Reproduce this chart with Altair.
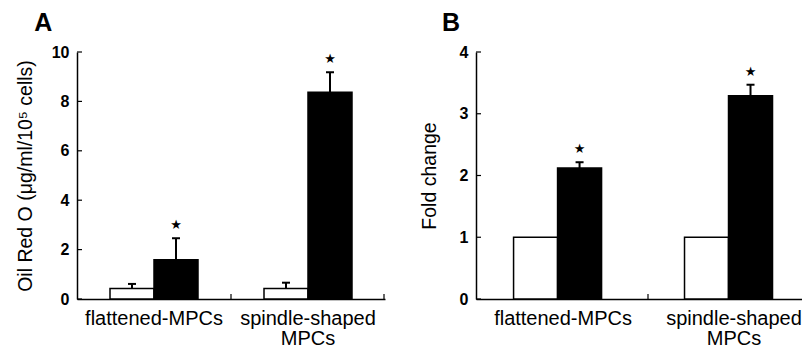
import altair as alt
import pandas as pd

categories = ["flattened-MPCs", "spindle-shaped MPCs"]
groups = ["control", "treated"]

# Panel A: Oil Red O
a_values = [0.43, 1.59, 0.43, 8.37]
a_err_top = [0.61, 2.46, 0.66, 9.18]
a_star = [0, 1, 0, 1]
a_ticks = [0, 2, 4, 6, 8, 10]

# Panel B: Fold change
b_values = [1.0, 2.12, 1.0, 3.29]
b_err_top = [1.0, 2.215, 1.0, 3.47]
b_star = [0, 1, 0, 1]
b_ticks = [0, 1, 2, 3, 4]

FONT = "Liberation Sans"


def make_df(values, errs, stars):
    rows = []
    i = 0
    for c in categories:
        for g in groups:
            rows.append({"cat": c, "grp": g, "value": values[i],
                         "err": errs[i], "star": stars[i]})
            i += 1
    return pd.DataFrame(rows)


def panel(values, errs, stars, ticks, ymax, ytitle, title, w, h,
          title_pad, p_in, p_out, p_align, title_dx, xtick_pos):
    df = make_df(values, errs, stars)
    xs = alt.Scale(paddingInner=p_in, paddingOuter=p_out, align=p_align)
    x_enc = alt.X("cat:N", scale=xs, title=None,
                  axis=alt.Axis(labelAngle=0, ticks=False, domain=True,
                                domainColor="black", domainOpacity=1,
                                domainWidth=1.5, labelFont=FONT, labelFontSize=20,
                                labelColor="black", labelPadding=9,
                                labelLineHeight=20,
                                labelExpr="datum.label == 'spindle-shaped MPCs' ? ['spindle-shaped', 'MPCs'] : datum.label"))
    y_enc = alt.Y("value:Q", scale=alt.Scale(domain=[0, ymax], nice=False), title=ytitle,
                  axis=alt.Axis(values=ticks, format="d", ticks=False, grid=False,
                                domain=True, domainColor="black", domainOpacity=1,
                                domainWidth=1.5,
                                labelFont=FONT, labelFontSize=16,
                                labelFontWeight="bold", labelColor="black",
                                labelPadding=8, titleFont=FONT,
                                titleFontSize=19.5, titleFontWeight="normal",
                                titleColor="black", titlePadding=title_pad))
    bars = alt.Chart(df).mark_bar(stroke="black", strokeWidth=1.5).encode(
        x=x_enc, xOffset=alt.XOffset("grp:N"), y=y_enc,
        fill=alt.Fill("grp:N", scale=alt.Scale(domain=groups, range=["white", "black"]),
                      legend=None),
    )
    err = alt.Chart(df).mark_rule(color="black", strokeWidth=2).encode(
        x="cat:N", xOffset="grp:N", y="value:Q", y2="err:Q"
    )
    caps = alt.Chart(df).mark_tick(color="black", thickness=2, size=8).encode(
        x="cat:N", xOffset="grp:N", y="err:Q",
        opacity=alt.condition("datum.err > datum.value", alt.value(1), alt.value(0)),
    )
    stars_l = alt.Chart(df).mark_text(text="★", font="DejaVu Sans", fontSize=13,
                                      color="black", baseline="middle",
                                      dy=-13).encode(
        x="cat:N", xOffset="grp:N", y="err:Q",
        opacity=alt.Opacity("star:Q", scale=None),
    )
    ytk = alt.Chart(pd.DataFrame({"t": ticks})).mark_rule(
        color="black", strokeWidth=1.2).encode(
        y="t:Q", x=alt.value(0), x2=alt.value(5)
    )
    layers = [bars, err, caps, stars_l, ytk]
    for xp in xtick_pos:
        layers.append(alt.Chart(pd.DataFrame({"t": [0]})).mark_rule(
            color="black", strokeWidth=1.2).encode(
            x=alt.value(xp), y=alt.value(h), y2=alt.value(h - 5)))
    return alt.layer(*layers).properties(
        width=w, height=h,
        title=alt.Title(title, anchor="start", font=FONT, fontSize=25,
                        fontWeight="bold", color="black", dx=title_dx, offset=8),
    )


A = panel(a_values, a_err_top, a_star, a_ticks, 10,
          "Oil Red O (μg/ml/10⁵ cells)", "A", 308, 247, 16,
          0.4286, 0.2143, 0.5, 19, [154, 307])
B = panel(b_values, b_err_top, b_star, b_ticks, 4,
          "Fold change", "B", 326, 247, 20,
          0.421, 0.164, 0.67, 23, [172])

chart = alt.hconcat(A, B, spacing=34).properties(
    padding={"left": 7, "top": 3, "right": 0, "bottom": 0}
).configure_view(stroke=None)

chart.save("out.html", embed_options={"renderer": "svg", "actions": False})
